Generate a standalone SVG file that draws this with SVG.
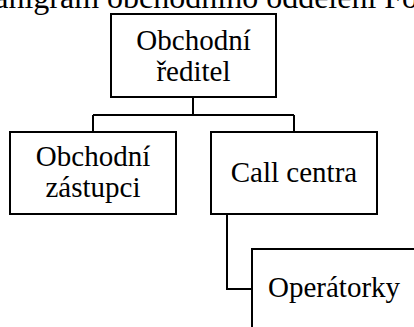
<svg xmlns="http://www.w3.org/2000/svg" width="414" height="327" viewBox="0 0 414 327">
<style>
.box{fill:#fff;stroke:#000;stroke-width:2}
.t{font-family:"Liberation Serif","DejaVu Serif","Times New Roman",serif;font-size:29px;fill:#000}
.title{font-size:32px}
.c{fill:none;stroke:#000;stroke-width:2}
</style>
<rect width="414" height="327" fill="#fff"/>
<text class="t title" x="-55" y="8">Organigram obchodního oddělení Fo</text>
<g id="connectors">
<path class="c" d="M193,97 V115 M93,115 H294 M93,115 V132 M294,115 V132"/>
<path class="c" d="M227,214 V289 H252"/>
</g>
<g id="reditel">
<rect class="box" x="111" y="14" width="165" height="83"/>
<text class="t" x="193.5" y="50" text-anchor="middle">Obchodní</text>
<text class="t" x="193.5" y="81" text-anchor="middle">ředitel</text>
</g>
<g id="zastupci">
<rect class="box" x="10" y="132" width="166" height="82"/>
<text class="t" x="93" y="166" text-anchor="middle">Obchodní</text>
<text class="t" x="93" y="197" text-anchor="middle">zástupci</text>
</g>
<g id="callcentra">
<rect class="box" x="211" y="132" width="166" height="82"/>
<text class="t" x="294" y="182" text-anchor="middle">Call centra</text>
</g>
<g id="operatorky">
<rect class="box" x="252" y="249" width="200" height="100"/>
<text class="t" x="268" y="297">Operátorky</text>
</g>
</svg>
